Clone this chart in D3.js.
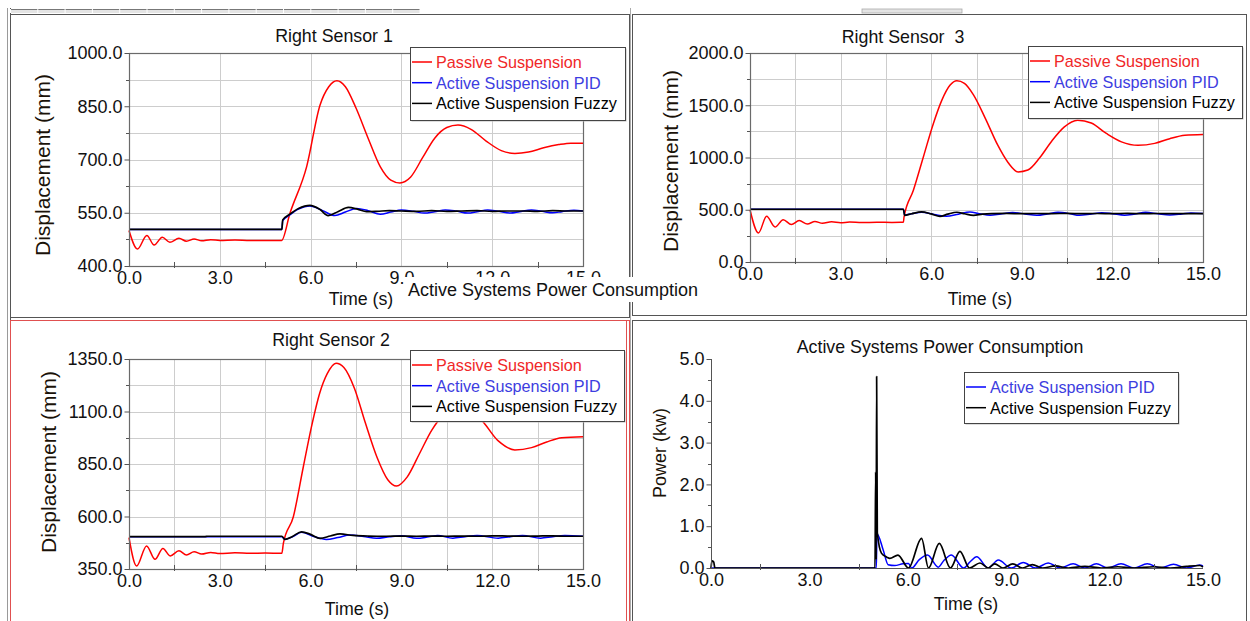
<!DOCTYPE html>
<html><head><meta charset="utf-8">
<script src="https://cdn.jsdelivr.net/npm/d3@7"></script>
<style>body{margin:0;background:#fff}svg{display:block}</style>
</head><body>
<svg id="c" width="1250" height="621"></svg>
<script>
// ---------------- DATA ----------------
const seriesNames = ["Passive Suspension", "Active Suspension PID", "Active Suspension Fuzzy"];
const xTicks = [0, 3, 6, 9, 12, 15];

// Right Sensor 1  [time s, displacement mm]
const s1Passive = [[0,500],[0.28,448],[0.59,486],[0.83,459],[1.1,481],[1.35,467],[1.65,478],[1.9,470],[2.15,476],[2.4,471],[2.7,474],[3.0,472],[3.5,473],[4.0,472],[4.5,472],[5.04,472],[5.32,549],[5.87,680],[6.31,853],[6.6,905],[6.87,922],[7.15,905],[7.5,845],[7.9,760],[8.3,680],[8.65,642],[8.95,634],[9.3,650],[9.7,705],[10.1,760],[10.5,790],[10.87,797],[11.3,785],[11.8,752],[12.3,725],[12.75,717],[13.2,721],[13.7,733],[14.2,742],[14.6,746],[15,746]];
const s1Pid = [[0,503],[5.05,503],[5.08,528],[5.3,543],[5.6,560],[5.98,569],[6.4,556],[6.8,542],[7.15,552],[7.52,562],[7.9,556],[8.3,546],[8.65,552],[9.0,558],[9.4,554],[9.75,549],[10.1,553],[10.45,558],[10.8,555],[11.2,549],[11.5,553],[11.85,558],[12.2,554],[12.6,549],[12.9,553],[13.3,558],[13.65,554],[14.0,550],[14.3,553],[14.7,557],[15,555]];
const s1Fuzzy = [[0,503],[5.05,503],[5.08,530],[5.3,545],[5.6,562],[5.98,571],[6.3,560],[6.58,542],[6.9,553],[7.25,565],[7.55,560],[7.85,553],[8.2,554],[8.6,556],[9.0,555],[9.5,554],[10,556],[10.5,554],[11,555],[11.5,556],[12,554],[12.5,555],[13,555],[13.5,554],[14,556],[14.5,555],[15,555]];
const s1YTicks = [400, 550, 700, 850, 1000];

// Right Sensor 3
const s3Passive = [[0,500],[0.28,278],[0.55,437],[0.83,335],[1.1,405],[1.37,358],[1.63,396],[1.9,364],[2.15,388],[2.4,370],[2.7,384],[3.0,376],[3.3,382],[3.7,378],[4.2,380],[4.7,379],[5.08,380],[5.1,430],[5.41,686],[5.74,1005],[6.07,1324],[6.35,1547],[6.62,1691],[6.85,1735],[7.1,1710],[7.4,1600],[7.8,1370],[8.2,1120],[8.55,950],[8.88,862],[9.2,880],[9.6,1000],[10.0,1160],[10.4,1290],[10.85,1356],[11.3,1330],[11.8,1230],[12.3,1150],[12.85,1117],[13.4,1135],[13.9,1180],[14.4,1212],[15,1220]];
const s3Pid = [[0,505],[5.08,505],[5.12,450],[5.35,462],[5.68,476],[6.1,455],[6.5,437],[6.9,458],[7.28,478],[7.6,462],[7.95,447],[8.3,460],[8.7,473],[9.1,460],[9.5,447],[9.85,460],[10.2,475],[10.6,462],[10.9,447],[11.3,460],[11.65,472],[12.0,462],[12.4,448],[12.75,460],[13.1,475],[13.5,462],[13.9,450],[14.3,460],[14.6,470],[15,465]];
const s3Fuzzy = [[0,505],[5.08,505],[5.12,447],[5.35,462],[5.68,479],[6.0,460],[6.29,437],[6.55,458],[6.85,476],[7.1,462],[7.4,447],[7.7,458],[8.0,463],[8.5,465],[9,462],[9.5,464],[10,463],[10.5,465],[11,462],[11.5,464],[12,463],[12.5,465],[13,462],[13.5,464],[14,463],[14.5,463],[15,463]];
const s3YTicks = [0, 500, 1000, 1500, 2000];

// Right Sensor 2
const s2Passive = [[0,499],[0.25,364],[0.58,460],[0.86,396],[1.12,448],[1.36,412],[1.65,437],[1.9,417],[2.15,432],[2.4,421],[2.7,429],[3.0,424],[3.5,427],[4.0,425],[4.5,426],[5.05,425],[5.1,472],[5.43,599],[5.76,837],[6.03,1028],[6.3,1187],[6.55,1280],[6.84,1330],[7.1,1310],[7.45,1210],[7.8,1050],[8.2,880],[8.55,775],[8.84,745],[9.2,790],[9.6,900],[10.0,1010],[10.4,1085],[10.8,1110],[11.2,1095],[11.6,1065],[12.2,960],[12.75,917],[13.3,928],[13.8,955],[14.3,975],[15,980]];
const s2Pid = [[0,504],[5.05,504],[5.15,491],[5.4,503],[5.7,525],[6.1,505],[6.52,491],[6.9,500],[7.3,512],[7.75,505],[8.18,496],[8.6,503],[9.0,508],[9.5,496],[9.9,503],[10.2,509],[10.7,497],[11.1,504],[11.5,509],[12.2,497],[12.6,504],[13.0,509],[13.6,497],[14.0,504],[14.4,509],[15,506]];
const s2Fuzzy = [[0,504],[2.5,504],[2.6,506],[5.05,506],[5.15,491],[5.4,505],[5.7,527],[6.0,515],[6.31,496],[6.65,507],[6.97,517],[7.4,510],[7.9,507],[8.5,506],[9,507],[9.5,506],[10,507],[10.5,506],[11,507],[11.5,506],[12,508],[12.5,507],[13,506],[13.5,507],[14,508],[14.5,506],[15,506]];
const s2YTicks = [350, 600, 850, 1100, 1350];

// Active Systems Power Consumption [time s, power kW]
const powerPid = [[0,0],[5.04,0],[5.06,0.82],[5.25,0.43],[5.4,0.08],[5.6,0.06],[5.85,0.1],[6.02,0.11],[6.12,0.0],[6.35,0.2],[6.6,0.31],[6.93,0.02],[7.1,0.18],[7.33,0.31],[7.7,0.0],[7.9,0.15],[8.1,0.27],[8.45,0.0],[8.76,0.19],[9.15,0.0],[9.52,0.13],[9.9,0.0],[10.28,0.12],[10.65,0.0],[11.04,0.1],[11.4,0.0],[11.75,0.1],[12.1,0.0],[12.5,0.1],[12.9,0.0],[13.3,0.1],[13.7,0.0],[14.1,0.09],[14.5,0.0],[14.9,0.07],[15,0.05]];
const powerFuzzy = [[0,0],[0.03,0.17],[0.08,0.15],[0.12,0],[5.0,0],[5.02,2.3],[5.035,0.2],[5.05,4.58],[5.07,0.85],[5.2,0.35],[5.36,0.26],[5.45,0.23],[5.7,0.31],[6.02,0.0],[6.42,0.71],[6.63,0.0],[6.96,0.59],[7.3,0.0],[7.59,0.4],[7.88,0.0],[8.2,0.12],[8.45,0.0],[8.65,0.1],[8.9,0.0],[9.2,0.1],[9.5,0.0],[9.8,0.08],[10.1,0.0],[10.5,0.05],[10.9,0.0],[11.4,0.04],[11.9,0.0],[12.4,0.03],[12.9,0.0],[13.5,0.03],[14.0,0.0],[14.5,0.04],[14.9,0.06],[15,0.02]];
const powerYTicks = [0, 1, 2, 3, 4, 5];

// ---------------- DRAW ----------------
const FONT = "'Liberation Sans', Arial, sans-serif";
const svg = d3.select("#c");
const COL = {passive: "#ff0000", pid: "#0000ff", fuzzy: "#000000"};
const TXT = {passive: "#f02828", pid: "#3d3de0", fuzzy: "#000000"};

// window chrome
svg.append("line").attr("x1",7.5).attr("x2",7.5).attr("y1",8).attr("y2",621).attr("stroke","#9a9a9a");
svg.append("line").attr("x1",10.5).attr("x2",10.5).attr("y1",8).attr("y2",621).attr("stroke","#555");
svg.append("rect").attr("x",10).attr("y",9).attr("width",410).attr("height",4).attr("fill","#e4e4e4");
svg.append("line").attr("x1",10).attr("x2",420).attr("y1",9.5).attr("y2",9.5).attr("stroke","#777");
d3.range(10, 421, 27.3).forEach(x => svg.append("line").attr("x1",x+0.5).attr("x2",x+0.5).attr("y1",9).attr("y2",13).attr("stroke","#fff"));
svg.append("rect").attr("x",862).attr("y",9).attr("width",100).attr("height",4).attr("fill","#e4e4e4").attr("stroke","#aaa").attr("stroke-width",0.8);
svg.append("rect").attr("x",10.5).attr("y",14.5).attr("width",619).attr("height",303).attr("fill","none").attr("stroke","#555");
svg.append("rect").attr("x",632.5).attr("y",14.5).attr("width",614).attr("height",301).attr("fill","none").attr("stroke","#555");
svg.append("rect").attr("x",632.5).attr("y",320.5).attr("width",614).attr("height",301).attr("fill","none").attr("stroke","#555");
svg.append("rect").attr("x",10.5).attr("y",320.5).attr("width",619).attr("height",302).attr("fill","none").attr("stroke","#e05050");
svg.append("line").attr("x1",626.5).attr("x2",626.5).attr("y1",320).attr("y2",621).attr("stroke","#e05050");
svg.append("line").attr("x1",630.5).attr("x2",630.5).attr("y1",8).attr("y2",621).attr("stroke","#aaa");

function panel(cfg){
  const g = svg.append("g");
  const x = d3.scaleLinear().domain([0,15]).range([cfg.x0, cfg.x1]);
  const y = d3.scaleLinear().domain([cfg.yTicks[0], cfg.yTicks[cfg.yTicks.length-1]]).range([cfg.yb, cfg.yt]);
  const ystep = cfg.yTicks[1]-cfg.yTicks[0];
  const yMinor = d3.range(cfg.yTicks[0], cfg.yTicks[cfg.yTicks.length-1]+1e-9, ystep/2);
  const xMinor = d3.range(0, 15.0001, 1.5);
  // grid
  if (cfg.grid) {
    g.selectAll(null).data(yMinor).join("line")
      .attr("x1",cfg.x0).attr("x2",cfg.x1)
      .attr("y1",d=>Math.round(y(d))+0.5).attr("y2",d=>Math.round(y(d))+0.5)
      .attr("stroke","#cdcdcd");
    g.selectAll(null).data(cfg.vMinor ? xMinor : xTicks).join("line")
      .attr("y1",cfg.yt).attr("y2",cfg.yb)
      .attr("x1",d=>Math.round(x(d))+0.5).attr("x2",d=>Math.round(x(d))+0.5)
      .attr("stroke","#cdcdcd");
  }
  // series
  const line = d3.line().x(d=>x(d[0])).y(d=>y(d[1])).curve(d3.curveMonotoneX);
  cfg.series.forEach(s => {
    g.append("path").datum(s.data).attr("d", line).attr("fill","none")
      .attr("stroke", COL[s.key]).attr("stroke-width", s.key==="fuzzy"?1.7:1.5)
      .attr("stroke-linejoin","round");
  });
  // frame / axes
  if (cfg.frame) {
    g.append("rect").attr("x",cfg.x0+0.5).attr("y",Math.round(cfg.yt)+0.5)
      .attr("width",cfg.x1-cfg.x0).attr("height",cfg.yb-cfg.yt)
      .attr("fill","none").attr("stroke","#6a6a6a").attr("stroke-width",1.2);
  } else {
    g.append("line").attr("x1",cfg.x0+0.5).attr("x2",cfg.x0+0.5).attr("y1",cfg.yt).attr("y2",cfg.yb).attr("stroke","#555");
    g.append("line").attr("x1",cfg.x0).attr("x2",cfg.x1).attr("y1",cfg.yb+0.5).attr("y2",cfg.yb+0.5).attr("stroke","#555");
  }
  const yAxis = d3.axisLeft(y).tickValues(cfg.yTicks).tickFormat(d3.format(".1f")).tickSize(5).tickPadding(2);
  const ya = g.append("g").attr("transform",`translate(${cfg.x0+0.5},0)`).call(yAxis);
  const xAxis = d3.axisBottom(x).tickValues(xTicks).tickFormat(d3.format(".1f")).tickSize(0).tickPadding(5);
  const xa = g.append("g").attr("transform",`translate(0,${cfg.yb+0.5})`).call(xAxis);
  [ya, xa].forEach(a => {
    a.select(".domain").remove();
    a.selectAll(".tick line").attr("stroke","#555");
    a.selectAll("text").attr("font-family",FONT).attr("font-size","18px").attr("fill","#111");
  });
  // minor ticks
  g.selectAll(null).data(yMinor.filter(v=>!cfg.yTicks.includes(v))).join("line")
    .attr("x1",cfg.x0-3).attr("x2",cfg.x0).attr("y1",d=>Math.round(y(d))+0.5).attr("y2",d=>Math.round(y(d))+0.5).attr("stroke","#555");
  g.selectAll(null).data(xMinor.filter(v=>!xTicks.includes(v))).join("line")
    .attr("y1",cfg.yb-4).attr("y2",cfg.yb+2).attr("x1",d=>Math.round(x(d))+0.5).attr("x2",d=>Math.round(x(d))+0.5).attr("stroke","#555");
  // titles
  g.append("text").attr("x",cfg.titleX).attr("y",cfg.titleY).attr("text-anchor","middle")
    .attr("font-family",FONT).attr("font-size","17.8px").attr("fill","#111").text(cfg.title);
  g.append("text").attr("x",cfg.xlabX).attr("y",cfg.xlabY).attr("text-anchor","middle")
    .attr("font-family",FONT).attr("font-size","17.8px").attr("fill","#111").text("Time (s)");
  g.append("text").attr("transform",`translate(${cfg.ylabX},${cfg.ylabY}) rotate(-90)`).attr("text-anchor","middle")
    .attr("font-family",FONT).attr("font-size",cfg.ylabSize).attr("fill","#1a1208").text(cfg.ylab);
  // legend
  const L = cfg.legend;
  const lg = g.append("g");
  lg.append("rect").attr("x",L.x+1.5).attr("y",L.y+1.5).attr("width",L.w).attr("height",L.h).attr("fill","#bbb");
  lg.append("rect").attr("x",L.x+0.5).attr("y",L.y+0.5).attr("width",L.w).attr("height",L.h).attr("fill","#fff").attr("stroke","#444");
  cfg.series.forEach((s,i) => {
    const yy = L.y + 15 + i*20.7;
    lg.append("line").attr("x1",L.x+2).attr("x2",L.x+22).attr("y1",yy).attr("y2",yy).attr("stroke",COL[s.key]).attr("stroke-width",1.5);
    lg.append("text").attr("x",L.x+26).attr("y",yy+6).attr("font-family",FONT).attr("font-size","16.2px")
      .attr("fill",TXT[s.key]).text(s.name);
  });
}

const S = (key, data) => ({key, data, name: {passive:seriesNames[0], pid:seriesNames[1], fuzzy:seriesNames[2]}[key]});

panel({x0:129, x1:583, yt:53, yb:266, yTicks:s1YTicks, grid:true, vMinor:false, frame:true,
  series:[S("passive",s1Passive),S("pid",s1Pid),S("fuzzy",s1Fuzzy)],
  title:"Right Sensor 1", titleX:334, titleY:42, xlabX:361, xlabY:305, ylabX:50, ylabY:165, ylabSize:"21px", ylab:"Displacement (mm)",
  legend:{x:410, y:47, w:215, h:73}});
panel({x0:750, x1:1203, yt:53, yb:262, yTicks:s3YTicks, grid:true, vMinor:true, frame:true,
  series:[S("passive",s3Passive),S("pid",s3Pid),S("fuzzy",s3Fuzzy)],
  title:"Right Sensor\u00a0\u00a03", titleX:903, titleY:43, xlabX:980, xlabY:305, ylabX:678, ylabY:161, ylabSize:"21px", ylab:"Displacement (mm)",
  legend:{x:1028, y:46, w:214, h:72}});
panel({x0:129, x1:583, yt:359, yb:569, yTicks:s2YTicks, grid:true, vMinor:true, frame:true,
  series:[S("passive",s2Passive),S("pid",s2Pid),S("fuzzy",s2Fuzzy)],
  title:"Right Sensor 2", titleX:331, titleY:346, xlabX:357, xlabY:615, ylabX:56, ylabY:462, ylabSize:"21px", ylab:"Displacement (mm)",
  legend:{x:410, y:350, w:214, h:71}});
panel({x0:711, x1:1203, yt:359, yb:568, yTicks:powerYTicks, grid:false, frame:false,
  series:[S("pid",powerPid),S("fuzzy",powerFuzzy)],
  title:"Active Systems Power Consumption", titleX:940, titleY:353, xlabX:966, xlabY:610, ylabX:666, ylabY:453, ylabSize:"18px", ylab:"Power (kw)",
  legend:{x:964, y:372, w:214, h:51}});

// stray overlay label
svg.append("rect").attr("x",404).attr("y",277).attr("width",300).attr("height",25).attr("fill","#fff");
svg.append("text").attr("x",408).attr("y",296).attr("font-family",FONT).attr("font-size","18px").attr("fill","#111")
  .text("Active Systems Power Consumption");
</script>
</body></html>
